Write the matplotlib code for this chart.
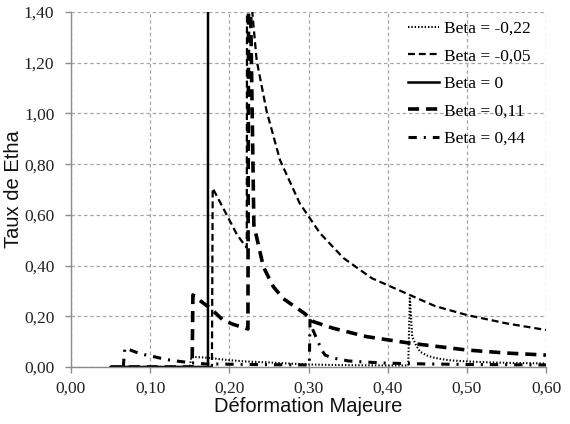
import matplotlib
matplotlib.use("Agg")
import matplotlib.pyplot as plt
from matplotlib.ticker import FixedLocator, FixedFormatter

plt.rcParams['lines.scale_dashes'] = False

# ---------------- data ----------------
x_m022 = [0.05, 0.150, 0.152, 0.165, 0.178, 0.19, 0.20, 0.22, 0.25, 0.28, 0.30, 0.33, 0.36,
          0.40, 0.426, 0.428, 0.431, 0.436, 0.441, 0.450, 0.458, 0.47, 0.48, 0.50, 0.53, 0.56, 0.60]
y_m022 = [0, 0, 0.04, 0.038, 0.035, 0.03, 0.027, 0.022, 0.018, 0.013, 0.01, 0.008, 0.007,
          0.006, 0.006, 0.277, 0.12, 0.085, 0.06, 0.045, 0.037, 0.03, 0.026, 0.022, 0.018, 0.016, 0.014]

x_m005 = [0.05, 0.178, 0.179, 0.19, 0.20, 0.21, 0.222, 0.2225, 0.229, 0.2345, 0.247, 0.264,
          0.289, 0.3145, 0.344, 0.38, 0.428, 0.46, 0.50, 0.55, 0.60]
y_m005 = [0, 0, 0.705, 0.64, 0.58, 0.52, 0.47, 1.9, 1.40, 1.21, 1.01, 0.816,
          0.645, 0.528, 0.43, 0.35, 0.284, 0.24, 0.205, 0.172, 0.146]

x_0 = [0.05, 0.173, 0.1731]
y_0 = [0, 0, 3.0]

x_p011 = [0.05, 0.153, 0.154, 0.165, 0.176, 0.192, 0.205, 0.2235, 0.2245, 0.231, 0.243,
          0.2555, 0.268, 0.2955, 0.306, 0.331, 0.373, 0.428, 0.50, 0.55, 0.60]
y_p011 = [0, 0, 0.284, 0.257, 0.232, 0.185, 0.168, 0.15, 1.9, 0.56, 0.395,
          0.317, 0.27, 0.21, 0.179, 0.153, 0.12, 0.094, 0.067, 0.055, 0.047]

x_p044 = [0.066, 0.068, 0.085, 0.10, 0.106, 0.119, 0.13, 0.14, 0.155, 0.17, 0.18, 0.20, 0.25,
          0.301, 0.302, 0.305, 0.312, 0.317, 0.321, 0.331, 0.344, 0.35, 0.37, 0.40, 0.45,
          0.50, 0.55, 0.60]
y_p044 = [0, 0.075, 0.055, 0.043, 0.04, 0.03, 0.025, 0.021, 0.016, 0.012, 0.012, 0.011, 0.009,
          0.008, 0.2, 0.15, 0.10, 0.065, 0.047, 0.035, 0.028, 0.024, 0.02, 0.015, 0.012,
          0.01, 0.009, 0.008]

labels = ["Beta = -0,22", "Beta = -0,05", "Beta = 0", "Beta = 0,11", "Beta = 0,44"]

xticks = [0.0, 0.1, 0.2, 0.3, 0.4, 0.5, 0.6]
xtick_labels = ["0,00", "0,10", "0,20", "0,30", "0,40", "0,50", "0,60"]
yticks = [0.0, 0.2, 0.4, 0.6, 0.8, 1.0, 1.2, 1.4]
ytick_labels = ["0,00", "0,20", "0,40", "0,60", "0,80", "1,00", "1,20", "1,40"]

# ---------------- figure ----------------
fig = plt.figure(figsize=(5.7, 4.24), dpi=100)
ax = fig.add_axes([71/570, 1-367/424, 475/570, 355/424])

ax.plot(x_m022, y_m022, color='black', lw=1.5, dashes=(1.0, 1.4), label=labels[0])
ax.plot(x_m005, y_m005, color='black', lw=1.6, dashes=(5, 2.8), label=labels[1])
ax.plot(x_0, y_0, color='black', lw=1.8, linestyle='-', label=labels[2])
ax.plot(x_p011, y_p011, color='black', lw=2.6, dashes=(8, 5), label=labels[3])
ax.plot(x_p044, y_p044, color='black', lw=2.2, dashes=(6, 5, 1.5, 5), label=labels[4])

ax.set_xlim(0, 0.6)
ax.set_ylim(0, 1.4)

ax.xaxis.set_major_locator(FixedLocator(xticks))
ax.xaxis.set_major_formatter(FixedFormatter(xtick_labels))
ax.yaxis.set_major_locator(FixedLocator(yticks))
ax.yaxis.set_major_formatter(FixedFormatter(ytick_labels))

ax.grid(True, color='#a6a6a6', lw=0.9, dashes=(2.5, 2.0))
ax.set_axisbelow(True)

for s in ['top', 'right']:
    ax.spines[s].set_visible(False)
for s in ['left', 'bottom']:
    ax.spines[s].set_color('#8c8c8c')
    ax.spines[s].set_linewidth(1.0)

ax.tick_params(axis='both', which='major', length=4, width=1.0, color='#8c8c8c',
               labelsize=12.5, labelcolor='#222222', direction='out')
ax.tick_params(axis='y', pad=8)
ax.tick_params(axis='x', pad=6)
for t in ax.get_xticklabels() + ax.get_yticklabels():
    t.set_fontfamily('Liberation Serif')

ax.set_xlabel("Déformation Majeure", fontfamily='Liberation Sans', fontsize=14.5, color='#111111')
ax.set_ylabel("Taux de Etha", fontfamily='Liberation Sans', fontsize=14.5, color='#111111')
ax.xaxis.set_label_coords(0.5, -0.085)
ax.yaxis.set_label_coords(-0.1, 0.5)

leg = ax.legend(loc='upper left', bbox_to_anchor=((408-71)/475, 0.975), frameon=False,
                prop={'family': 'Liberation Serif', 'size': 12.5},
                handlelength=1.8, handletextpad=0.3, labelspacing=0.65, borderpad=0.0,
                borderaxespad=0.0)

fig.savefig("out.png", dpi=100)
